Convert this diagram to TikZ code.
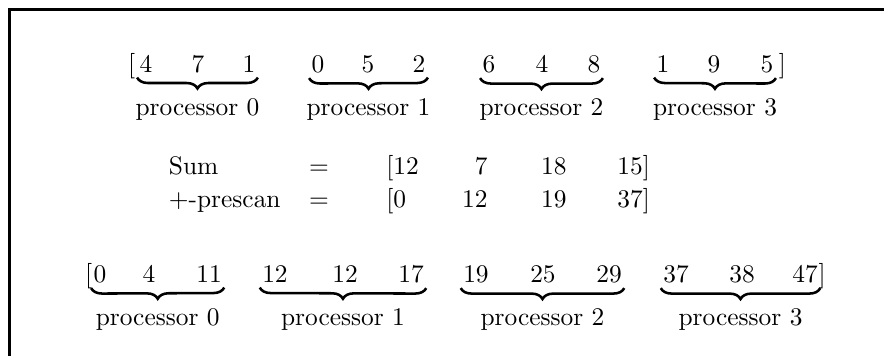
\documentclass[tikz,border=0pt]{standalone}
\usepackage{amsmath, amssymb}
\usepackage{tikz}
\usetikzlibrary{positioning,decorations.pathreplacing}

\tikzset{
  num/.style={inner sep=0pt, anchor=base},
  txt/.style={inner sep=0pt, anchor=base west},
  ubrace/.style={decorate, decoration={brace, mirror, amplitude=4.3pt}, line width=1pt},
  proc/.style={midway, below=7.6pt, inner sep=0pt},
}

\begin{document}
\begin{tikzpicture}[scale=1]
        \useasboundingbox (0,0) rectangle (12.232,4.926);
        \draw[line width=1.2pt] (12.232,4.788) -- (0.138,4.788) -- (0.138,0);
        % input, split over the processors
        \node[num] (a1) at (2.020,3.916) {4};
        \node[num] (a2) at (2.740,3.916) {7};
        \node[num] (a3) at (3.445,3.916) {1};
        \node[num] (a4) at (4.400,3.916) {0};
        \node[num] (a5) at (5.092,3.916) {5};
        \node[num] (a6) at (5.798,3.916) {2};
        \node[num] (a7) at (6.766,3.916) {6};
        \node[num] (a8) at (7.500,3.916) {4};
        \node[num] (a9) at (8.219,3.916) {8};
        \node[num] (a10) at (9.174,3.916) {1};
        \node[num] (a11) at (9.880,3.916) {9};
        \node[num] (a12) at (10.613,3.916) {5};
        \node[num, base left=1.4pt of a1] (aopen) {[};
        \node[num, base right=1.8pt of a12] (aclose) {]};
        \draw[ubrace] ([xshift=-0.8pt,yshift=-1.6pt]a1.south west) -- ([xshift=0.8pt,yshift=-1.6pt]a3.south east) node[proc] (ap0) {processor 0};
        \draw[ubrace] ([xshift=-0.8pt,yshift=-1.6pt]a4.south west) -- ([xshift=0.8pt,yshift=-1.6pt]a6.south east) node[proc] (ap1) {processor 1};
        \draw[ubrace] ([xshift=-0.8pt,yshift=-1.6pt]a7.south west) -- ([xshift=0.8pt,yshift=-1.6pt]a9.south east) node[proc] (ap2) {processor 2};
        \draw[ubrace] ([xshift=-0.8pt,yshift=-1.6pt]a10.south west) -- ([xshift=0.8pt,yshift=-1.6pt]a12.south east) node[proc] (ap3) {processor 3};
        % local sums and their prescan
        \node[txt] (sum) at (2.330,2.505) {Sum};
        \node[txt] (scan) at (2.330,2.048) {+-prescan};
        \node[num] (eqs) at (4.414,2.505) {$=$};
        \node[num] (eqp) at (4.414,2.048) {$=$};
        \node[txt] (s1) at (5.340,2.505) {[12};
        \node[num, anchor=base east] (s2) at (6.752,2.505) {7};
        \node[num, anchor=base east] (s3) at (7.846,2.505) {18};
        \node[num, anchor=base east] (s4) at (9.000,2.505) {15]};
        \node[txt] (p1) at (5.340,2.048) {[0};
        \node[num, anchor=base east] (p2) at (6.752,2.048) {12};
        \node[num, anchor=base east] (p3) at (7.846,2.048) {19};
        \node[num, anchor=base east] (p4) at (9.000,2.048) {37]};
        % result
        \node[num] (r1) at (1.384,1.010) {0};
        \node[num] (r2) at (2.062,1.010) {4};
        \node[num] (r3) at (2.892,1.010) {11};
        \node[num] (r4) at (3.805,1.010) {12};
        \node[num] (r5) at (4.774,1.010) {12};
        \node[num] (r6) at (5.687,1.010) {17};
        \node[num] (r7) at (6.586,1.010) {19};
        \node[num] (r8) at (7.513,1.010) {25};
        \node[num] (r9) at (8.427,1.010) {29};
        \node[num] (r10) at (9.354,1.010) {37};
        \node[num] (r11) at (10.267,1.010) {38};
        \node[num] (r12) at (11.139,1.010) {47};
        \node[num, base left=0.2pt of r1] (ropen) {[};
        \node[num, base right=0pt of r12] (rclose) {]};
        \draw[ubrace] ([xshift=-0.8pt,yshift=-1.6pt]r1.south west) -- ([xshift=0.8pt,yshift=-1.6pt]r3.south east) node[proc] (rp0) {processor 0};
        \draw[ubrace] ([xshift=-0.8pt,yshift=-1.6pt]r4.south west) -- ([xshift=0.8pt,yshift=-1.6pt]r6.south east) node[proc] (rp1) {processor 1};
        \draw[ubrace] ([xshift=-0.8pt,yshift=-1.6pt]r7.south west) -- ([xshift=0.8pt,yshift=-1.6pt]r9.south east) node[proc] (rp2) {processor 2};
        \draw[ubrace] ([xshift=-0.8pt,yshift=-1.6pt]r10.south west) -- ([xshift=0.8pt,yshift=-1.6pt]r12.south east) node[proc] (rp3) {processor 3};
      \end{tikzpicture}
\end{document}
